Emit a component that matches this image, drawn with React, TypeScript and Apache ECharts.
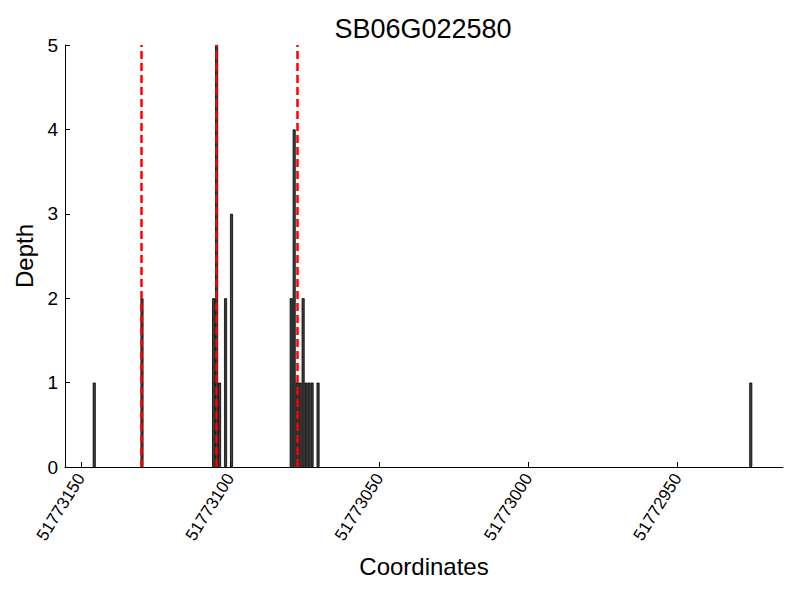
import React, { useEffect, useRef } from "react";
import * as echarts from "echarts";

const titleText = "SB06G022580";
const xName = "Coordinates";
const yName = "Depth";
// bar start coordinates (each bar spans one base: [pos, pos + 1])
const positions = [
  51773145, 51773129, 51773105, 51773104, 51773103, 51773101, 51773099,
  51773079, 51773078, 51773077, 51773076, 51773075, 51773074, 51773073,
  51773072, 51773070, 51772925,
];
const depths = [1, 2, 2, 5, 1, 2, 3, 2, 4, 1, 1, 2, 1, 1, 1, 1, 1];
const markers = [51773129.6, 51773104.6, 51773077.4];
const xTicks = [51773150, 51773100, 51773050, 51773000, 51772950];
const xMin = 51772914.7;
const xMax = 51773155.3;

const FONT = "Liberation Sans, Arial, sans-serif";

export default function App() {
  const ref = useRef<HTMLDivElement>(null);
  useEffect(() => {
    if (!ref.current) return;
    const chart = echarts.init(ref.current, undefined, { renderer: "svg" });
    const data = positions.map((p, i) => [p + 0.5, depths[i]]);
    chart.setOption({
      animation: false,
      backgroundColor: "#ffffff",
      textStyle: { fontFamily: FONT },
      grid: { left: 65, right: 17, top: 45, bottom: 133, containLabel: false },
      graphic: [
        {
          type: "text",
          x: 423,
          y: 29,
          style: {
            text: titleText,
            fontSize: 27,
            fontFamily: FONT,
            fill: "#000",
            textAlign: "center",
            textVerticalAlign: "middle",
          },
        },
      ],
      xAxis: {
        type: "value",
        inverse: true,
        min: xMin,
        max: xMax,
        name: xName,
        nameLocation: "middle",
        nameGap: 87,
        nameTextStyle: { fontSize: 24, color: "#000", fontFamily: FONT },
        axisLine: { show: true, lineStyle: { color: "#000", width: 1 } },
        axisTick: {
          show: true,
          inside: true,
          length: 5,
          customValues: xTicks,
          lineStyle: { color: "#000" },
        },
        axisLabel: {
          show: true,
          rotate: 58,
          margin: 8,
          fontSize: 17,
          color: "#000",
          fontFamily: FONT,
          customValues: xTicks,
          formatter: (v: number) => String(Math.round(v)),
        },
        splitLine: { show: false },
      },
      yAxis: {
        type: "value",
        min: 0,
        max: 5,
        interval: 1,
        name: yName,
        nameLocation: "middle",
        nameGap: 28,
        nameTextStyle: { fontSize: 24, color: "#000", fontFamily: FONT },
        axisLine: { show: true, lineStyle: { color: "#000", width: 1 } },
        axisTick: { show: true, inside: true, length: 5, lineStyle: { color: "#000" } },
        axisLabel: { fontSize: 19, color: "#000", margin: 7, fontFamily: FONT },
        splitLine: { show: false },
      },
      series: [
        {
          type: "bar",
          data,
          barWidth: 3,
          itemStyle: { color: "#404040", borderColor: "#000", borderWidth: 0.8 },
          markLine: {
            silent: true,
            symbol: ["none", "none"],
            label: { show: false },
            lineStyle: { color: "#ff0000", type: [8, 4], width: 2.5 },
            data: markers.map((m) => ({ xAxis: m })),
          },
          z: 2,
        },
      ],
    });
    return () => chart.dispose();
  }, []);
  return (
    <div
      ref={ref}
      style={{ position: "absolute", left: 0, top: 0, width: 800, height: 600 }}
    />
  );
}
